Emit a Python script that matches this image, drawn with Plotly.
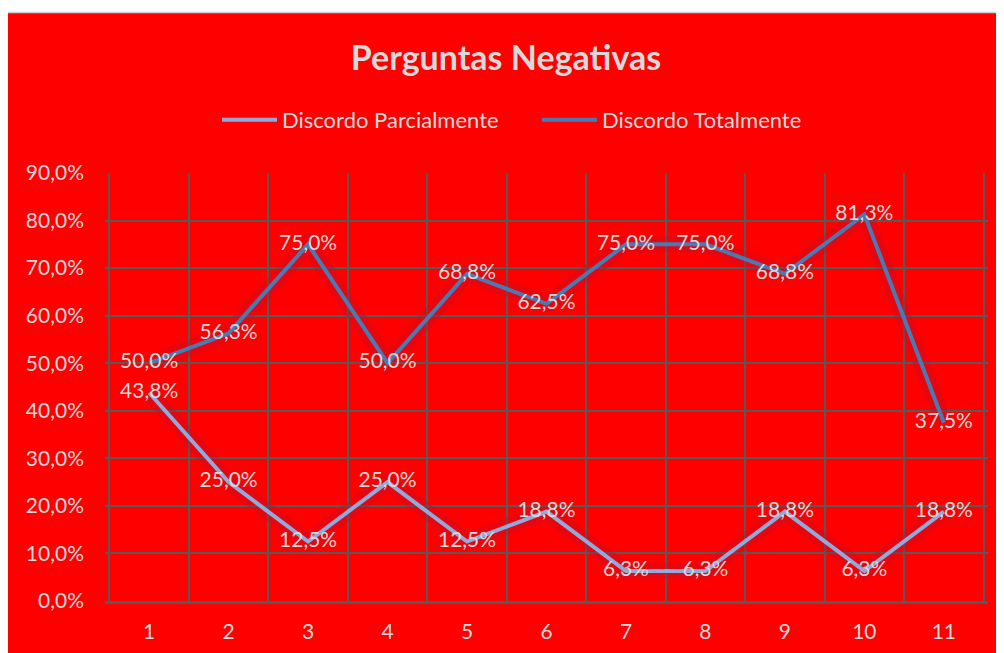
import plotly.graph_objects as go

categories = ["1", "2", "3", "4", "5", "6", "7", "8", "9", "10", "11"]
parcialmente = [0.438, 0.250, 0.125, 0.250, 0.125, 0.188, 0.063, 0.063, 0.188, 0.063, 0.188]
totalmente = [0.500, 0.563, 0.750, 0.500, 0.688, 0.625, 0.750, 0.750, 0.688, 0.813, 0.375]
y_ticks = [0.0, 0.1, 0.2, 0.3, 0.4, 0.5, 0.6, 0.7, 0.8, 0.9]

RED = "#ff0000"
TXT = "#d9d9d9"
GRID = "#595959"
C_PARC = "#8faadc"
C_TOT = "#4a7ab4"
FONT = "Lato, Open Sans, sans-serif"

W, H = 996, 645
ML, MR, MT, MB = 97, 16, 165, 52
PW, PH = W - ML - MR, H - MT - MB

def px_x(px):
    return (px - ML) / PW

def px_y(py):
    return (H - MB - py) / PH

fig = go.Figure()

# soft glow under lines
for vals in (parcialmente, totalmente):
    fig.add_trace(go.Scatter(x=categories, y=vals, mode="lines",
                             line=dict(color="rgba(170,20,50,0.3)", width=16),
                             hoverinfo="skip", showlegend=False))

fig.add_trace(go.Scatter(
    x=categories, y=parcialmente, name="Discordo Parcialmente",
    mode="lines+text", line=dict(color=C_PARC, width=4),
    texttemplate="%{y:.1%}", textposition="middle center",
    textfont=dict(color=TXT, size=21, family=FONT)))
fig.add_trace(go.Scatter(
    x=categories, y=totalmente, name="Discordo Totalmente",
    mode="lines+text", line=dict(color=C_TOT, width=4),
    texttemplate="%{y:.1%}", textposition="middle center",
    textfont=dict(color=TXT, size=21, family=FONT)))

fig.update_layout(
    width=W, height=H,
    paper_bgcolor=RED, plot_bgcolor=RED,
    separators=",.",
    font=dict(family=FONT, color=TXT, size=21),
    title=dict(text="<b>Perguntas Negativas</b>", x=0.5, xanchor="center",
               y=1 - 50 / H, yanchor="middle", font=dict(size=34, color=TXT, family=FONT)),
    legend=dict(orientation="h", x=px_x(529), xanchor="center", y=px_y(112), yanchor="middle",
                font=dict(size=22, color=TXT, family=FONT), itemwidth=55,
                entrywidth=250, entrywidthmode="pixels",
                bgcolor="rgba(0,0,0,0)"),
    margin=dict(l=ML, r=MR, t=MT, b=MB, autoexpand=False),
    showlegend=True,
    shapes=[dict(type="rect", xref="paper", yref="paper",
                 x0=px_x(-2), x1=px_x(W + 2), y0=px_y(-2), y1=px_y(4),
                 fillcolor="white", line=dict(width=0), layer="above"),
            dict(type="line", xref="paper", yref="paper",
                 x0=px_x(-2), x1=px_x(W + 2), y0=px_y(4.5), y1=px_y(4.5),
                 line=dict(color="#d0d0d0", width=1.5), layer="above")],
)
fig.update_xaxes(type="category", tickson="boundaries", showgrid=True, gridcolor=GRID,
                 gridwidth=1.5, showline=True, linecolor=GRID, linewidth=2.5,
                 ticks="", tickfont=dict(size=21, color=TXT), ticklabelstandoff=10,
                 mirror=False, automargin=False)
fig.update_yaxes(range=[0, 0.9], tickvals=y_ticks, tickformat=".1%", showgrid=True,
                 gridcolor=GRID, gridwidth=1.5, zeroline=False, showline=False,
                 ticks="", ticklabelstandoff=20, automargin=False,
                 tickfont=dict(size=21, color=TXT))

fig.write_html("out.html")
